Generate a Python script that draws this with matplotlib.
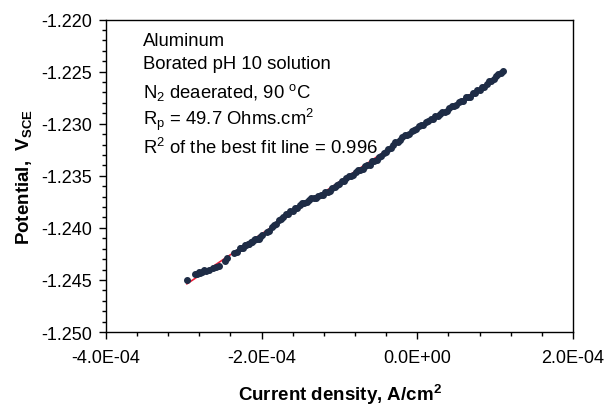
import numpy as np
import matplotlib
matplotlib.use('Agg')
import matplotlib.pyplot as plt
from matplotlib.ticker import MultipleLocator, FormatStrFormatter, FuncFormatter

plt.rcParams['font.family'] = ['Liberation Sans', 'DejaVu Sans']
plt.rcParams['mathtext.fontset'] = 'custom'
plt.rcParams['mathtext.rm'] = 'Liberation Sans'
plt.rcParams['mathtext.it'] = 'Liberation Sans:italic'
plt.rcParams['mathtext.bf'] = 'Liberation Sans:bold'

# current density (units of 1e-4 A/cm2) and potential (V vs SCE)
current = [
    -2.96, -2.85, -2.83, -2.81, -2.79, -2.77, -2.74, -2.71, -2.67, -2.63,
    -2.58, -2.55, -2.47, -2.44, -2.35, -2.32, -2.28, -2.26, -2.24, -2.22,
    -2.20, -2.18, -2.16, -2.14, -2.12, -2.10, -2.08, -2.06, -2.04, -2.02,
    -1.99, -1.93, -1.90, -1.87, -1.84, -1.81, -1.78, -1.75, -1.72, -1.69,
    -1.66, -1.63, -1.60, -1.57, -1.54, -1.51, -1.48, -1.45, -1.42, -1.39,
    -1.36, -1.33, -1.30, -1.27, -1.24, -1.21, -1.18, -1.15, -1.12, -1.09,
    -1.06, -1.03, -1.00, -0.97, -0.94, -0.91, -0.88, -0.85, -0.82, -0.79,
    -0.76, -0.73, -0.70, -0.67, -0.64, -0.61, -0.58, -0.55, -0.52, -0.49,
    -0.46, -0.43, -0.40, -0.37, -0.34, -0.31, -0.28, -0.25, -0.22, -0.19,
    -0.16, -0.13, -0.10, -0.07, -0.04, -0.01, 0.02, 0.05, 0.08, 0.11,
    0.14, 0.17, 0.20, 0.23, 0.26, 0.29, 0.32, 0.35, 0.38, 0.41,
    0.44, 0.47, 0.50, 0.53, 0.56, 0.59, 0.62, 0.65, 0.68, 0.71,
    0.74, 0.77, 0.80, 0.83, 0.86, 0.89, 0.92, 0.95, 0.98, 1.01,
    1.04, 1.07, 1.10,
]
potential = [
    -1.24500, -1.24445, -1.24440, -1.24425, -1.24432, -1.24420, -1.24408, -1.24413, -1.24405, -1.24388,
    -1.24372, -1.24370, -1.24323, -1.24291, -1.24242, -1.24232, -1.24192, -1.24196, -1.24193, -1.24169,
    -1.24168, -1.24153, -1.24154, -1.24132, -1.24139, -1.24120, -1.24105, -1.24111, -1.24106, -1.24084,
    -1.24064, -1.24043, -1.24029, -1.23993, -1.23974, -1.23961, -1.23923, -1.23915, -1.23900, -1.23871,
    -1.23863, -1.23842, -1.23837, -1.23809, -1.23810, -1.23785, -1.23763, -1.23763, -1.23752, -1.23729,
    -1.23715, -1.23717, -1.23714, -1.23690, -1.23683, -1.23682, -1.23655, -1.23656, -1.23646, -1.23615,
    -1.23606, -1.23584, -1.23578, -1.23549, -1.23549, -1.23523, -1.23500, -1.23500, -1.23491, -1.23464,
    -1.23447, -1.23445, -1.23438, -1.23410, -1.23399, -1.23394, -1.23361, -1.23359, -1.23349, -1.23318,
    -1.23307, -1.23282, -1.23272, -1.23240, -1.23236, -1.23207, -1.23180, -1.23176, -1.23160, -1.23128,
    -1.23108, -1.23105, -1.23097, -1.23068, -1.23056, -1.23049, -1.23018, -1.23016, -1.23008, -1.22980,
    -1.22973, -1.22954, -1.22951, -1.22925, -1.22928, -1.22904, -1.22884, -1.22885, -1.22875, -1.22848,
    -1.22830, -1.22828, -1.22822, -1.22793, -1.22783, -1.22779, -1.22747, -1.22748, -1.22741, -1.22709,
    -1.22701, -1.22679, -1.22673, -1.22644, -1.22644, -1.22619, -1.22591, -1.22588, -1.22574, -1.22545,
    -1.22523, -1.22515, -1.22494,
]

info_lines = [
    'Aluminum',
    'Borated pH 10 solution',
    r'N$_2$ deaerated, 90 $^\mathregular{o}$C',
    r'R$_\mathregular{p}$ = 49.7 Ohms.cm$^\mathregular{2}$',
    r'R$^\mathregular{2}$ of the best fit line = 0.996',
]

x = np.array(current) * 1e-4
y = np.array(potential)

fig = plt.figure(figsize=(6.08, 4.10), dpi=100)
ax = fig.add_axes([0.1743, 0.1878, 0.768, 0.762])

slope, icpt = np.polyfit(x, y, 1)
xf = np.array([x.min(), x.max()])
ax.plot(xf, slope * xf + icpt, color='#e8203a', lw=1.2, zorder=1)
ax.plot(x, y, 'o', ms=4, color='#1e2c46', mec='#1e2c46', zorder=2)

ax.set_xlim(-4e-4, 2e-4)
ax.set_ylim(-1.250, -1.220)
ax.xaxis.set_major_locator(MultipleLocator(2e-4))
ax.xaxis.set_minor_locator(MultipleLocator(0.4e-4))
ax.yaxis.set_major_locator(MultipleLocator(0.005))
ax.yaxis.set_minor_locator(MultipleLocator(0.001))
ax.xaxis.set_major_formatter(FuncFormatter(lambda v, p: '{:.1E}'.format(0.0 if abs(v) < 1e-12 else v)))
ax.yaxis.set_major_formatter(FormatStrFormatter('%.3f'))
ax.tick_params(which='major', direction='out', length=5, width=1, labelsize=13, pad=5)
ax.tick_params(which='minor', direction='out', length=3, width=1)
ax.tick_params(axis='x', which='major', pad=7)
for s in ax.spines.values():
    s.set_linewidth(1)

ax.set_xlabel(r'Current density, A/cm$^\mathbf{2}$', fontsize=13.5, fontweight='bold', labelpad=12)
ax.set_ylabel(r'Potential,  $\mathbf{V_{SCE}}$', fontsize=13.5, fontweight='bold', labelpad=5)

# text block, positions in pixels from the top of the axes
for line, py in zip(info_lines, [41, 64, 92, 120, 148]):
    ax.text(0.08, (333 - py) / 312.5, line, transform=ax.transAxes, fontsize=13.3, va='center', ha='left')

fig.savefig('out.png', dpi=100)
